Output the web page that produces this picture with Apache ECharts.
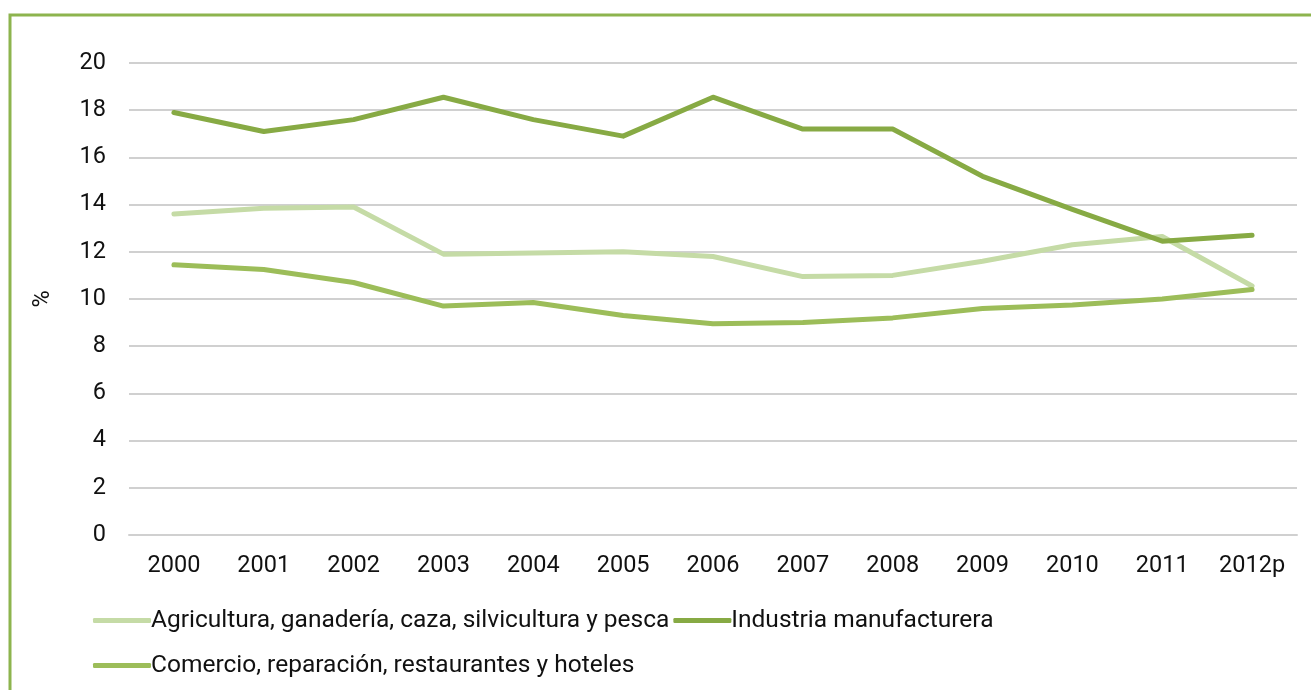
<!DOCTYPE html>
<html><head><meta charset="utf-8">
<script src="https://cdn.jsdelivr.net/npm/echarts@6/dist/echarts.min.js"></script>
<style>html,body{margin:0;padding:0;background:#fff}#c{width:1311px;height:690px}</style>
</head><body><div id="c"></div>
<script>
const categories = ['2000','2001','2002','2003','2004','2005','2006','2007','2008','2009','2010','2011','2012p'];
const agricultura = [13.6,13.85,13.9,11.9,11.95,12.0,11.8,10.95,11.0,11.6,12.3,12.65,10.55];
const industria = [17.9,17.1,17.6,18.55,17.6,16.9,18.55,17.2,17.2,15.2,13.8,12.45,12.7];
const comercio = [11.45,11.25,10.7,9.7,9.85,9.3,8.95,9.0,9.2,9.6,9.75,10.0,10.4];
const names = ['Agricultura, ganadería, caza, silvicultura y pesca','Industria manufacturera','Comercio, reparación, restaurantes y hoteles'];
const colors = ['#c5dba6','#87aa44','#9cbd59'];
const font = 'Roboto';
const chart = echarts.init(document.getElementById('c'));
const mk = (i, d) => ({name: names[i], type:'line', data:d, symbol:'none', smooth:false,
  lineStyle:{width:5, color:colors[i], cap:'round', join:'round'}, itemStyle:{color:colors[i]}});
const legendCommon = {left:88, itemWidth:58, itemHeight:5, itemGap:4, icon:'roundRect',
  textStyle:{fontFamily:font, fontSize:24.5, color:'#111', padding:[0,0,0,-5]}};
chart.setOption({
  animation:false,
  textStyle:{fontFamily:font},
  graphic:[{type:'rect', shape:{x:10,y:15,width:1400,height:800}, style:{fill:'none', stroke:'#8db44e', lineWidth:3}}],
  grid:{left:129, right:14, top:63, bottom:155},
  legend:[Object.assign({top:603, data:[names[0],names[1]]}, legendCommon),
          Object.assign({top:648, data:[names[2]]}, legendCommon)],
  xAxis:{type:'category', data:categories, boundaryGap:true,
    axisLine:{show:true, lineStyle:{color:'#d0d0d0', width:2}}, axisTick:{show:false},
    axisLabel:{fontFamily:font, fontSize:23.5, color:'#111', margin:19}},
  yAxis:{type:'value', min:0, max:20, interval:2, name:'%', nameLocation:'middle', nameGap:74,
    nameTextStyle:{fontFamily:font, fontSize:23.5, color:'#111'},
    axisLine:{show:false}, axisTick:{show:false},
    splitLine:{lineStyle:{color:'#d0d0d0', width:2}},
    axisLabel:{fontFamily:font, fontSize:23.5, color:'#111', margin:23}},
  series:[mk(0,agricultura), mk(1,industria), mk(2,comercio)]
});
</script></body></html>
